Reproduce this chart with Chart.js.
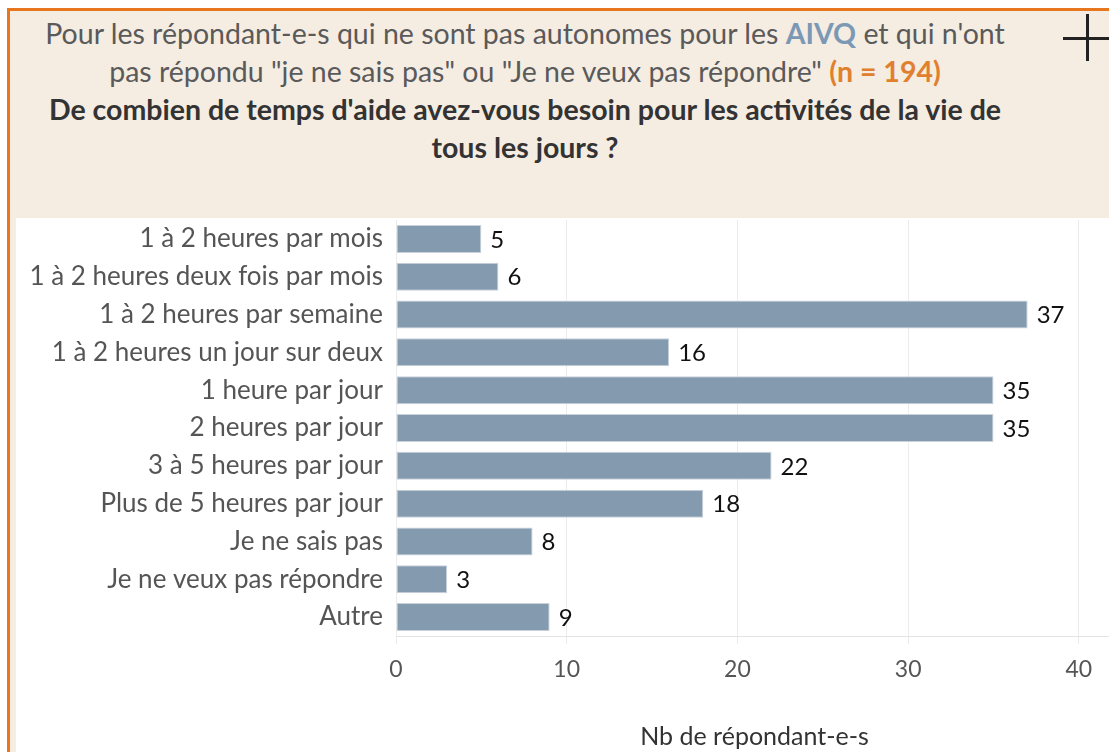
<!DOCTYPE html>
<html>
<head>
<meta charset="utf-8">
<script src="https://cdn.jsdelivr.net/npm/chart.js@4.4.1/dist/chart.umd.min.js"></script>
<style>
  html, body { margin:0; padding:0; }
  body { width:1109px; height:752px; overflow:hidden; background:#fff; position:relative; font-family: Lato, "Noto Sans", sans-serif; }
  #frame { position:absolute; left:7px; top:8px; width:1200px; height:800px; border-left:3px solid #e8761e; border-top:3px solid #e8761e; background:#f5ece2; }
  #header { position:absolute; left:16px; top:14px; width:1018px; text-align:center; font-size:28.5px; line-height:38px; color:#5a5a5a; }
  #header .b { font-weight:bold; color:#333; }
  #header .aivq { font-weight:bold; color:#7b98b5; }
  #header .n { font-weight:bold; color:#e0802f; }
  #plusH { position:absolute; left:1063px; top:37px; width:50px; height:3px; background:#222; }
  #plusV { position:absolute; left:1086px; top:14px; width:3px; height:47px; background:#222; }
  #chartWrap { position:absolute; left:16px; top:218px; width:1100px; height:534px; background:#fff; }
</style>
</head>
<body>
<div id="frame"></div>
<div id="header">Pour les répondant-e-s qui ne sont pas autonomes pour les <span class="aivq">AIVQ</span> et qui n'ont<br>pas répondu "je ne sais pas" ou "Je ne veux pas répondre" <span class="n">(n = 194)</span><br><span class="b">De combien de temps d'aide avez-vous besoin pour les activités de la vie de<br>tous les jours ?</span></div>
<div id="plusH"></div><div id="plusV"></div>
<div id="chartWrap"><canvas id="c" width="1100" height="534"></canvas></div>
<script>
const categories = [
  "1 à 2 heures par mois",
  "1 à 2 heures deux fois par mois",
  "1 à 2 heures par semaine",
  "1 à 2 heures un jour sur deux",
  "1 heure par jour",
  "2 heures par jour",
  "3 à 5 heures par jour",
  "Plus de 5 heures par jour",
  "Je ne sais pas",
  "Je ne veux pas répondre",
  "Autre"
];
const respondents = [5, 6, 37, 16, 35, 35, 22, 18, 8, 3, 9];
const axisTitle = "Nb de répondant-e-s";

const FONT = 'Lato, "Noto Sans", sans-serif';

const valueLabels = {
  id: 'valueLabels',
  afterDatasetsDraw(chart) {
    const ctx = chart.ctx;
    const meta = chart.getDatasetMeta(0);
    ctx.save();
    ctx.font = '24px ' + FONT;
    ctx.fillStyle = '#111';
    ctx.textBaseline = 'middle';
    ctx.textAlign = 'left';
    meta.data.forEach((el, i) => {
      ctx.fillText(String(chart.data.datasets[0].data[i]), el.x + 9, el.y + 1);
    });
    ctx.restore();
  }
};

new Chart(document.getElementById('c'), {
  type: 'bar',
  data: {
    labels: categories,
    datasets: [{
      data: respondents,
      backgroundColor: '#849aaf',
      borderColor: '#c9d2db',
      borderWidth: 1,
      borderSkipped: false,
      barPercentage: 0.74,
      categoryPercentage: 1
    }]
  },
  options: {
    indexAxis: 'y',
    responsive: false,
    animation: false,
    layout: { padding: { top: 2, right: 3, left: 0, bottom: 0 } },
    plugins: { legend: { display: false }, tooltip: { enabled: false } },
    scales: {
      x: {
        min: 0, max: 42,
        ticks: { stepSize: 10, includeBounds: false, color: '#555', font: { family: FONT, size: 23 }, padding: 12 },
        grid: { color: '#ececec', tickLength: 8, tickColor: '#ececec' },
        border: { display: true, color: '#e4e4e4' },
        title: { display: true, text: axisTitle, color: '#333', font: { family: FONT, size: 25 }, padding: { top: 0, bottom: 0 } },
        afterFit(scale) { scale.height = 116; scale.paddingLeft = 0; scale.paddingRight = 0; }
      },
      y: {
        ticks: { color: '#555', font: { family: FONT, size: 26 }, padding: 13 },
        grid: { display: false, drawTicks: false },
        border: { display: false },
        afterFit(scale) { scale.width = 380; scale.paddingTop = 0; scale.paddingBottom = 0; }
      }
    }
  },
  plugins: [valueLabels]
});
</script>
</body>
</html>
